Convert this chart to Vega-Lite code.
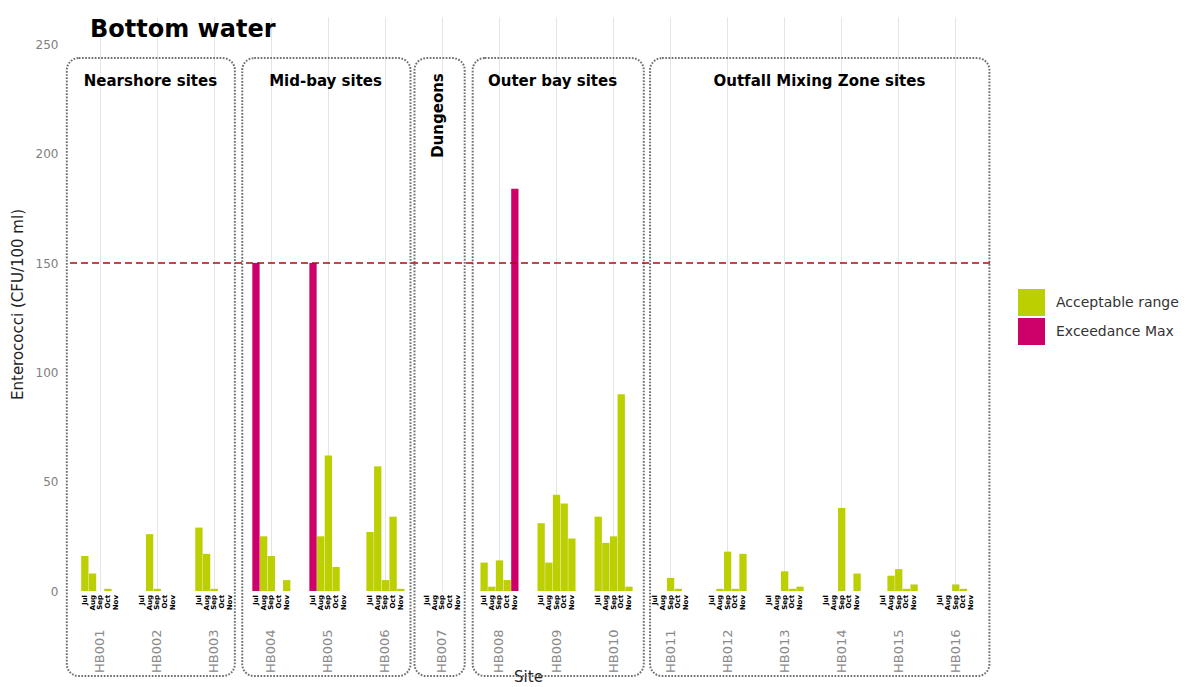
{
  "$schema": "https://vega.github.io/schema/vega-lite/v6.json",
  "width": 924,
  "height": 574,
  "autosize": "none",
  "padding": {"left": 66, "top": 17, "right": 201, "bottom": 96},
  "background": "white",
  "config": {
    "view": {"stroke": null},
    "font": "DejaVu Sans",
    "axisY": {
      "domain": false, "ticks": false, "labelPadding": 8, "labelColor": "#808080", "labelFontSize": 12,
      "gridColor": "#e5e5e5", "titleFontSize": 15, "titleFontWeight": "normal", "titleColor": "#222222", "titlePadding": 10
    }
  },
  "title": {
    "text": "Bottom water", "anchor": "start", "frame": "group", "fontSize": 24, "fontWeight": "bold",
    "color": "black", "dx": 24, "dy": 25, "offset": 0
  },
  "datasets": {
    "obs": [
      {"site": "HB001", "month": "Jul", "value": 16, "status": "Acceptable range"},
      {"site": "HB001", "month": "Aug", "value": 8, "status": "Acceptable range"},
      {"site": "HB001", "month": "Sep", "value": null, "status": null},
      {"site": "HB001", "month": "Oct", "value": 1, "status": "Acceptable range"},
      {"site": "HB001", "month": "Nov", "value": null, "status": null},
      {"site": "HB002", "month": "Jul", "value": null, "status": null},
      {"site": "HB002", "month": "Aug", "value": 26, "status": "Acceptable range"},
      {"site": "HB002", "month": "Sep", "value": 1, "status": "Acceptable range"},
      {"site": "HB002", "month": "Oct", "value": null, "status": null},
      {"site": "HB002", "month": "Nov", "value": null, "status": null},
      {"site": "HB003", "month": "Jul", "value": 29, "status": "Acceptable range"},
      {"site": "HB003", "month": "Aug", "value": 17, "status": "Acceptable range"},
      {"site": "HB003", "month": "Sep", "value": 1, "status": "Acceptable range"},
      {"site": "HB003", "month": "Oct", "value": null, "status": null},
      {"site": "HB003", "month": "Nov", "value": null, "status": null},
      {"site": "HB004", "month": "Jul", "value": 150, "status": "Exceedance Max"},
      {"site": "HB004", "month": "Aug", "value": 25, "status": "Acceptable range"},
      {"site": "HB004", "month": "Sep", "value": 16, "status": "Acceptable range"},
      {"site": "HB004", "month": "Oct", "value": null, "status": null},
      {"site": "HB004", "month": "Nov", "value": 5, "status": "Acceptable range"},
      {"site": "HB005", "month": "Jul", "value": 150, "status": "Exceedance Max"},
      {"site": "HB005", "month": "Aug", "value": 25, "status": "Acceptable range"},
      {"site": "HB005", "month": "Sep", "value": 62, "status": "Acceptable range"},
      {"site": "HB005", "month": "Oct", "value": 11, "status": "Acceptable range"},
      {"site": "HB005", "month": "Nov", "value": null, "status": null},
      {"site": "HB006", "month": "Jul", "value": 27, "status": "Acceptable range"},
      {"site": "HB006", "month": "Aug", "value": 57, "status": "Acceptable range"},
      {"site": "HB006", "month": "Sep", "value": 5, "status": "Acceptable range"},
      {"site": "HB006", "month": "Oct", "value": 34, "status": "Acceptable range"},
      {"site": "HB006", "month": "Nov", "value": 1, "status": "Acceptable range"},
      {"site": "HB007", "month": "Jul", "value": null, "status": null},
      {"site": "HB007", "month": "Aug", "value": null, "status": null},
      {"site": "HB007", "month": "Sep", "value": null, "status": null},
      {"site": "HB007", "month": "Oct", "value": null, "status": null},
      {"site": "HB007", "month": "Nov", "value": null, "status": null},
      {"site": "HB008", "month": "Jul", "value": 13, "status": "Acceptable range"},
      {"site": "HB008", "month": "Aug", "value": 2, "status": "Acceptable range"},
      {"site": "HB008", "month": "Sep", "value": 14, "status": "Acceptable range"},
      {"site": "HB008", "month": "Oct", "value": 5, "status": "Acceptable range"},
      {"site": "HB008", "month": "Nov", "value": 184, "status": "Exceedance Max"},
      {"site": "HB009", "month": "Jul", "value": 31, "status": "Acceptable range"},
      {"site": "HB009", "month": "Aug", "value": 13, "status": "Acceptable range"},
      {"site": "HB009", "month": "Sep", "value": 44, "status": "Acceptable range"},
      {"site": "HB009", "month": "Oct", "value": 40, "status": "Acceptable range"},
      {"site": "HB009", "month": "Nov", "value": 24, "status": "Acceptable range"},
      {"site": "HB010", "month": "Jul", "value": 34, "status": "Acceptable range"},
      {"site": "HB010", "month": "Aug", "value": 22, "status": "Acceptable range"},
      {"site": "HB010", "month": "Sep", "value": 25, "status": "Acceptable range"},
      {"site": "HB010", "month": "Oct", "value": 90, "status": "Acceptable range"},
      {"site": "HB010", "month": "Nov", "value": 2, "status": "Acceptable range"},
      {"site": "HB011", "month": "Jul", "value": null, "status": null},
      {"site": "HB011", "month": "Aug", "value": null, "status": null},
      {"site": "HB011", "month": "Sep", "value": 6, "status": "Acceptable range"},
      {"site": "HB011", "month": "Oct", "value": 1, "status": "Acceptable range"},
      {"site": "HB011", "month": "Nov", "value": null, "status": null},
      {"site": "HB012", "month": "Jul", "value": null, "status": null},
      {"site": "HB012", "month": "Aug", "value": 1, "status": "Acceptable range"},
      {"site": "HB012", "month": "Sep", "value": 18, "status": "Acceptable range"},
      {"site": "HB012", "month": "Oct", "value": 1, "status": "Acceptable range"},
      {"site": "HB012", "month": "Nov", "value": 17, "status": "Acceptable range"},
      {"site": "HB013", "month": "Jul", "value": null, "status": null},
      {"site": "HB013", "month": "Aug", "value": null, "status": null},
      {"site": "HB013", "month": "Sep", "value": 9, "status": "Acceptable range"},
      {"site": "HB013", "month": "Oct", "value": 1, "status": "Acceptable range"},
      {"site": "HB013", "month": "Nov", "value": 2, "status": "Acceptable range"},
      {"site": "HB014", "month": "Jul", "value": null, "status": null},
      {"site": "HB014", "month": "Aug", "value": null, "status": null},
      {"site": "HB014", "month": "Sep", "value": 38, "status": "Acceptable range"},
      {"site": "HB014", "month": "Oct", "value": null, "status": null},
      {"site": "HB014", "month": "Nov", "value": 8, "status": "Acceptable range"},
      {"site": "HB015", "month": "Jul", "value": null, "status": null},
      {"site": "HB015", "month": "Aug", "value": 7, "status": "Acceptable range"},
      {"site": "HB015", "month": "Sep", "value": 10, "status": "Acceptable range"},
      {"site": "HB015", "month": "Oct", "value": 1, "status": "Acceptable range"},
      {"site": "HB015", "month": "Nov", "value": 3, "status": "Acceptable range"},
      {"site": "HB016", "month": "Jul", "value": null, "status": null},
      {"site": "HB016", "month": "Aug", "value": null, "status": null},
      {"site": "HB016", "month": "Sep", "value": 3, "status": "Acceptable range"},
      {"site": "HB016", "month": "Oct", "value": 1, "status": "Acceptable range"},
      {"site": "HB016", "month": "Nov", "value": null, "status": null}
    ],
    "groups": [
      {"group": "Nearshore sites", "start": 0.414, "end": 3.36, "mid": 1.88},
      {"group": "Mid-bay sites", "start": 3.49, "end": 6.44, "mid": 4.95},
      {"group": "Dungeons", "start": 6.51, "end": 7.39, "mid": 6.93},
      {"group": "Outer bay sites", "start": 7.53, "end": 10.53, "mid": 8.93},
      {"group": "Outfall Mixing Zone sites", "start": 10.64, "end": 16.59, "mid": 13.61}
    ]
  },
  "layer": [
    {
      "data": {"name": "groups"},
      "layer": [
        {
          "mark": {"type": "rect", "fill": "transparent", "stroke": "#707070", "strokeWidth": 2, "strokeDash": [1.7, 1.5], "cornerRadius": 12},
          "encoding": {
            "x": {"field": "start", "type": "quantitative", "scale": {"domain": [0.4, 16.6], "nice": false, "zero": false}, "axis": null},
            "x2": {"field": "end"},
            "y": {"datum": 243.7, "type": "quantitative", "scale": {"domain": [0, 262.5], "nice": false}, "title": "Enterococci (CFU/100 ml)"},
            "y2": {"datum": -38.9}
          }
        },
        {
          "transform": [{"filter": "datum.group != 'Dungeons'"}],
          "mark": {"type": "text", "fontWeight": "bold", "fontSize": 15, "baseline": "middle", "align": "center", "color": "black"},
          "encoding": {
            "x": {"field": "mid", "type": "quantitative", "axis": null},
            "y": {"datum": 233.3, "type": "quantitative", "title": "Enterococci (CFU/100 ml)"},
            "text": {"field": "group"}
          }
        },
        {
          "transform": [{"filter": "datum.group == 'Dungeons'"}],
          "mark": {"type": "text", "fontWeight": "bold", "fontSize": 15, "baseline": "middle", "align": "right", "angle": 270, "color": "black"},
          "encoding": {
            "x": {"field": "mid", "type": "quantitative", "axis": null},
            "y": {"datum": 236.8, "type": "quantitative", "title": "Enterococci (CFU/100 ml)"},
            "text": {"field": "group"}
          }
        }
      ]
    },
    {
      "data": {"name": "obs"},
      "layer": [
        {
          "transform": [{"filter": "datum.value != null"}],
          "mark": {"type": "bar"},
          "encoding": {
            "x": {
              "field": "site", "type": "nominal", "title": "Site",
              "scale": {"paddingInner": 0.3333, "paddingOuter": 0.2667},
              "axis": {
                "domain": false, "ticks": false, "grid": true, "bandPosition": 0.5, "gridColor": "#e5e5e5",
                "labelAngle": 270, "labelAlign": "right", "labelBaseline": "middle", "labelPadding": 38,
                "labelColor": "#8a8a8a", "labelFontSize": 13,
                "titleFontSize": 15, "titleFontWeight": "normal", "titleColor": "#222222", "titlePadding": -3
              }
            },
            "xOffset": {"field": "month", "type": "nominal", "scale": {"domain": ["Jul", "Aug", "Sep", "Oct", "Nov"], "paddingInner": 0.05}},
            "y": {
              "field": "value", "type": "quantitative", "title": "Enterococci (CFU/100 ml)",
              "scale": {"domain": [0, 262.5], "nice": false},
              "axis": {
                "values": [0, 25, 50, 75, 100, 125, 150, 175, 200, 225, 250],
                "labelExpr": "datum.value % 50 == 0 ? datum.label : ''",
                "gridColor": {"condition": {"test": "datum.value % 50 != 0", "value": "#efefef"}, "value": "#e5e5e5"}
              }
            },
            "color": {
              "field": "status", "type": "nominal",
              "scale": {"domain": ["Acceptable range", "Exceedance Max"], "range": ["#bccf00", "#cc0068"]},
              "legend": {
                "title": null, "orient": "none", "legendX": 952, "legendY": 272, "symbolType": "square",
                "symbolSize": 729, "symbolStrokeWidth": 0, "symbolOpacity": 1, "labelFontSize": 14,
                "labelColor": "#333333", "rowPadding": 2, "labelOffset": 11
              }
            }
          }
        },
        {
          "mark": {"type": "text", "angle": 270, "align": "right", "baseline": "middle", "fontSize": 7, "fontWeight": "bold", "dx": -4, "color": "black"},
          "encoding": {
            "x": {"field": "site", "type": "nominal"},
            "xOffset": {"field": "month", "type": "nominal"},
            "y": {"datum": 0, "type": "quantitative"},
            "text": {"field": "month"}
          }
        },
        {
          "data": {"values": [{"threshold": 150}]},
          "mark": {"type": "rule", "color": "#a50f15", "strokeDash": [7, 4], "strokeWidth": 1.5},
          "encoding": {"y": {"field": "threshold", "type": "quantitative"}}
        }
      ]
    }
  ],
  "resolve": {"scale": {"x": "independent"}}
}
